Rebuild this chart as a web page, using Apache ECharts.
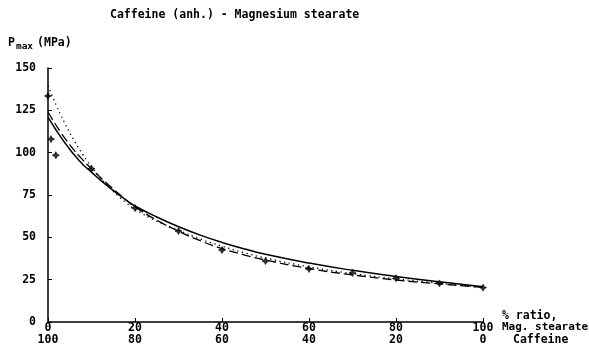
<!DOCTYPE html>
<html>
<head>
<meta charset="utf-8">
<script src="https://cdn.jsdelivr.net/npm/echarts@6/dist/echarts.min.js"></script>
<style>
  html, body { margin: 0; padding: 0; background: #fff; }
  #chart { width: 589px; height: 348px; }
</style>
</head>
<body>
<div id="chart"></div>
<script>
// Magnesium stearate content (%), shared x grid for the three fitted curves
const curveX = [0, 1, 2, 3, 4, 5, 6, 7, 8, 9, 10, 12, 14, 16, 18, 20, 25, 30, 35, 40, 45, 50, 60, 70, 80, 90, 100];
// Fitted Pmax curves (MPa)
const fitSolid  = [121, 116.8, 112.8, 109, 105.4, 102, 98.8, 95.8, 93, 90.7, 88.5,
                   83.9, 79.7, 75.7, 71.9, 68.5, 62, 56.3, 51.3, 47, 43.3, 40, 34.8, 30.5, 26.9, 23.7, 20.8];
const fitDashed = [124, 119.7, 115.6, 111.7, 108.1, 104.7, 101.5, 98.5, 95.7, 93, 90.5,
                   85.5, 80.8, 76.3, 72, 68, 60.1, 53.6, 48, 43.4, 39.7, 36.6, 31.6, 27.8, 24.8, 22.5, 20.5];
const fitDotted = [139.5, 133.3, 127.4, 121.9, 116.7, 111.8, 107.2, 102.9, 98.9, 95.2, 91.7,
                   85.3, 79.7, 74.7, 70.4, 66.5, 59.6, 54.2, 49, 44.8, 41, 37.8, 32.6, 28.6, 25.5, 22.9, 20.5];

// Measured points
const measuredX = [0, 0.7, 1.8, 10, 20, 30, 40, 50, 60, 70, 80, 90, 100];
const measuredP = [133.5, 108, 98.5, 90.5, 67.3, 53.7, 42.5, 36, 31.3, 29, 25.8, 22.8, 20.3];

// Tick labels: magnesium stearate row and caffeine row
const stearateTicks = [0, 20, 40, 60, 80, 100];
const caffeineTicks = [100, 80, 60, 40, 20, 0];
const pressureTicks = [0, 25, 50, 75, 100, 125, 150];

const FONT = '"DejaVu Sans Mono", monospace';
const INK = '#000';

function pairs(xs, ys) { return xs.map((x, i) => [x, ys[i]]); }

const chart = echarts.init(document.getElementById('chart'), null, { renderer: 'canvas' });

chart.setOption({
  animation: false,
  backgroundColor: '#fff',
  grid: { left: 48, right: 106, top: 68, bottom: 26, containLabel: false },
  xAxis: {
    type: 'value', min: 0, max: 100, interval: 20,
    axisLine: { show: true, lineStyle: { color: INK, width: 1.5 } },
    axisTick: { show: true, inside: true, length: 4, lineStyle: { color: INK, width: 1 } },
    splitLine: { show: false },
    axisLabel: {
      margin: 0,
      formatter: function (v) {
        const i = stearateTicks.indexOf(v);
        return '{a|' + stearateTicks[i] + '}\n{b|' + caffeineTicks[i] + '}';
      },
      rich: {
        a: { fontFamily: FONT, fontWeight: 'bold', fontSize: 11.5, color: INK, lineHeight: 12 },
        b: { fontFamily: FONT, fontWeight: 'bold', fontSize: 11.5, color: INK, lineHeight: 12 }
      }
    }
  },
  yAxis: {
    type: 'value', min: 0, max: 150, interval: 25,
    axisLine: { show: true, lineStyle: { color: INK, width: 1.5 } },
    axisTick: { show: true, inside: true, length: 4, lineStyle: { color: INK, width: 1 } },
    splitLine: { show: false },
    axisLabel: {
      margin: 12,
      fontFamily: FONT, fontWeight: 'bold', fontSize: 11.5, color: INK,
      formatter: function (v) { return pressureTicks.indexOf(v) >= 0 ? String(v) : ''; }
    }
  },
  series: [
    {
      type: 'line', data: pairs(curveX, fitSolid), smooth: true, symbol: 'none',
      lineStyle: { color: INK, width: 1.5, type: 'solid' }
    },
    {
      type: 'line', data: pairs(curveX, fitDashed), smooth: true, symbol: 'none',
      lineStyle: { color: INK, width: 1.3, type: [9, 4] }
    },
    {
      type: 'line', data: pairs(curveX, fitDotted), smooth: true, symbol: 'none',
      lineStyle: { color: INK, width: 1.3, type: [1.3, 3.5] }
    },
    {
      type: 'scatter', data: pairs(measuredX, measuredP),
      symbol: 'path://M0,-10L3.5,-3.5L10,0L3.5,3.5L0,10L-3.5,3.5L-10,0L-3.5,-3.5Z',
      symbolSize: 7,
      itemStyle: { color: INK, borderColor: INK, borderWidth: 0.8 }
    }
  ],
  graphic: [
    {
      type: 'text', left: 110, top: 9,
      style: { text: 'Caffeine (anh.) - Magnesium stearate', font: 'bold 11.5px ' + FONT, fill: INK }
    },
    {
      type: 'text', left: 8, top: 37,
      style: {
        text: '{p|P}{s|max}{u|(MPa)}',
        rich: {
          p: { fontFamily: FONT, fontWeight: 'bold', fontSize: 11.5, color: INK },
          s: { fontFamily: FONT, fontWeight: 'bold', fontSize: 9.5, color: INK, padding: [7, 4, 0, 1] },
          u: { fontFamily: FONT, fontWeight: 'bold', fontSize: 11.5, color: INK }
        }
      }
    },
    {
      type: 'text', left: 502, top: 310,
      style: { text: '% ratio,', font: 'bold 11.5px ' + FONT, fill: INK }
    },
    {
      type: 'text', left: 502, top: 322,
      style: { text: 'Mag. stearate', font: 'bold 11px ' + FONT, fill: INK }
    },
    {
      type: 'text', left: 513, top: 334,
      style: { text: 'Caffeine', font: 'bold 11.5px ' + FONT, fill: INK }
    }
  ]
});
</script>
</body>
</html>
